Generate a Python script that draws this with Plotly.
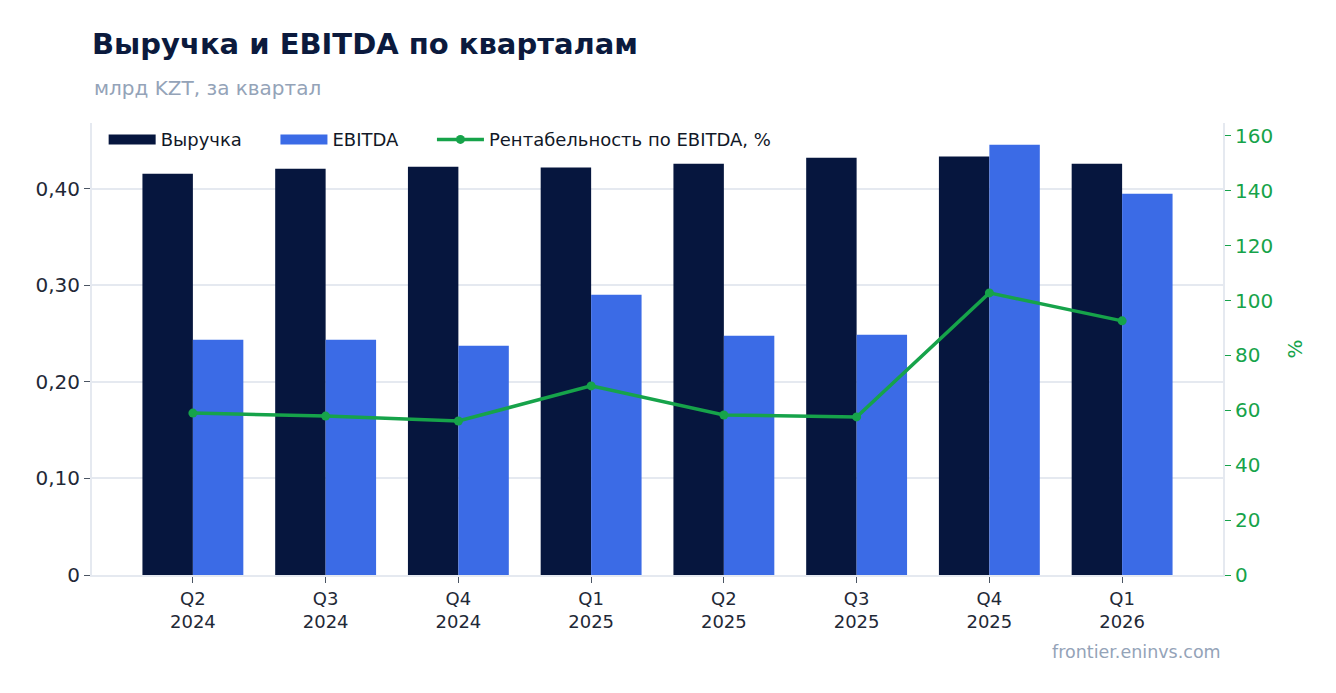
import plotly.graph_objects as go

# quarters and values (bln KZT per quarter)
quarters = ["Q2<br>2024", "Q3<br>2024", "Q4<br>2024", "Q1<br>2025",
            "Q2<br>2025", "Q3<br>2025", "Q4<br>2025", "Q1<br>2026"]
revenue = [0.4155, 0.4207, 0.4228, 0.4218, 0.4259, 0.4321, 0.4332, 0.4259]
ebitda = [0.2435, 0.2435, 0.2373, 0.2902, 0.2477, 0.2487, 0.4456, 0.3948]
margin = [59.0, 57.9, 56.1, 68.9, 58.3, 57.6, 102.8, 92.6]

left_ticks = [0, 0.1, 0.2, 0.3, 0.4]
left_labels = ["0", "0,10", "0,20", "0,30", "0,40"]
right_ticks = [0, 20, 40, 60, 80, 100, 120, 140, 160]

NAVY = "#06163e"
BLUE = "#3b6be6"
GREEN = "#16a34a"
GRID = "#e5e9f0"
PAD = "\u00a0" * 5  # extra room between legend entries

fig = go.Figure()
fig.add_trace(go.Bar(x=quarters, y=revenue, name="Выручка", marker_color=NAVY,
                     marker_line_width=0, showlegend=False, legendgroup="rev"))
fig.add_trace(go.Bar(x=quarters, y=ebitda, name="EBITDA", marker_color=BLUE,
                     marker_line_width=0, showlegend=False, legendgroup="ebitda"))
# wide legend swatches for the bars
fig.add_trace(go.Scatter(x=[None], y=[None], name="Выручка" + PAD, mode="lines",
                         line=dict(color=NAVY, width=14), legendgroup="rev"))
fig.add_trace(go.Scatter(x=[None], y=[None], name="EBITDA" + PAD, mode="lines",
                         line=dict(color=BLUE, width=14), legendgroup="ebitda"))
fig.add_trace(go.Scatter(x=quarters, y=margin, name="Рентабельность по EBITDA, %",
                         mode="lines+markers", yaxis="y2",
                         line=dict(color=GREEN, width=3.5),
                         marker=dict(color=GREEN, size=9)))

fig.update_layout(
    width=1320, height=677,
    margin=dict(l=84, r=105, t=115, b=110),
    paper_bgcolor="white", plot_bgcolor="white",
    font=dict(family="DejaVu Sans", color="#1f2937"),
    barmode="group", bargap=0.24, bargroupgap=0,
    title=dict(text="<b>Выручка и EBITDA по кварталам</b>", x=0, xref="paper",
               y=0.947, yanchor="middle", font=dict(size=29, color="#0b1a3d")),
    xaxis=dict(range=[-0.76, 7.76], showgrid=False, showline=True, linecolor=GRID,
               linewidth=2, ticks="outside", ticklen=6, tickcolor="#4b5563",
               tickfont=dict(size=18, color="#1f2937")),
    yaxis=dict(range=[0, 0.468], tickvals=left_ticks, ticktext=left_labels,
               showgrid=True, gridcolor=GRID, gridwidth=2, zeroline=False,
               showline=True, linecolor=GRID, linewidth=2,
               ticks="outside", ticklen=6, tickcolor="#4b5563",
               tickfont=dict(size=20, color="#1f2937")),
    yaxis2=dict(range=[0, 164.7], overlaying="y", side="right",
                tickvals=right_ticks, showgrid=False, zeroline=False,
                showline=True, linecolor=GRID, linewidth=2,
                ticks="outside", ticklen=6, tickcolor=GREEN,
                tickfont=dict(size=20, color=GREEN),
                title=dict(text="%", font=dict(size=20, color=GREEN), standoff=16)),
    legend=dict(orientation="h", x=0.0103, y=1.004, xanchor="left", yanchor="top",
                font=dict(size=18, color="#111827"), bgcolor="rgba(0,0,0,0)",
                itemwidth=47),
    annotations=[
        dict(text="млрд KZT, за квартал", x=0, y=1.077, xref="paper", yref="paper",
             xanchor="left", yanchor="middle", showarrow=False,
             font=dict(size=20, color="#94a3b8")),
        dict(text="frontier.eninvs.com", x=1, y=-0.170, xref="paper", yref="paper",
             xanchor="right", yanchor="middle", showarrow=False,
             font=dict(size=17.5, color="#94a3b8")),
    ],
)

fig.write_html("out.html")
